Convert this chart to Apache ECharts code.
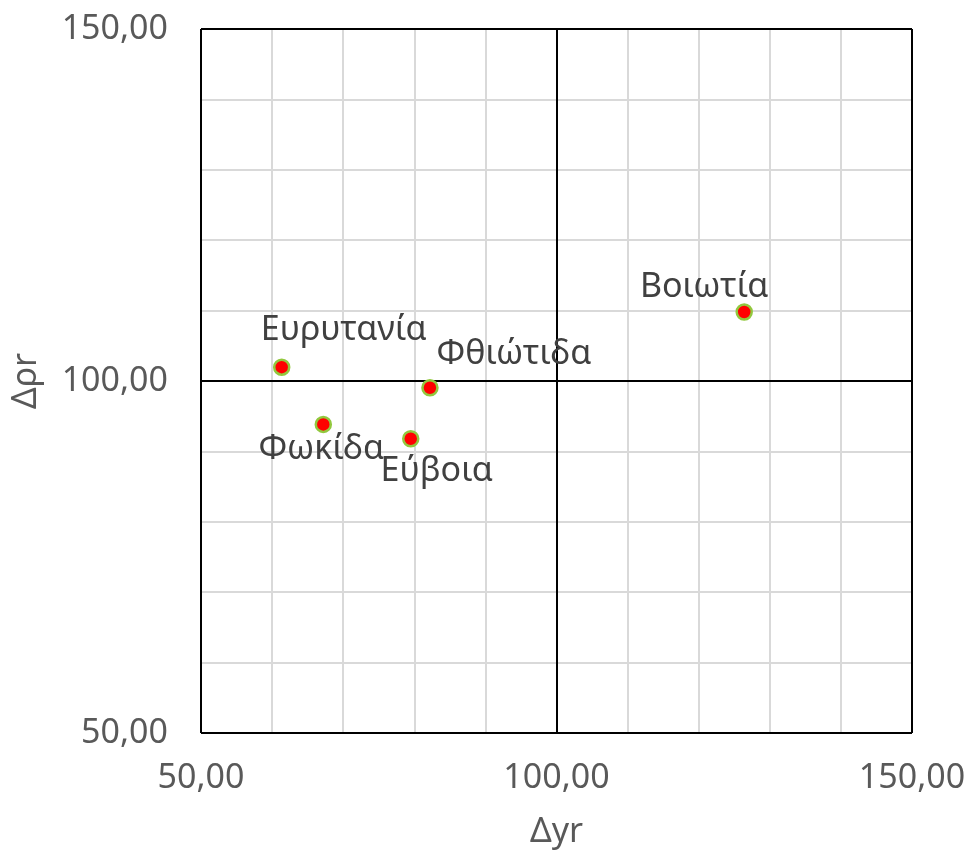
<!DOCTYPE html>
<html><head><meta charset="utf-8">
<script src="https://cdn.jsdelivr.net/npm/echarts@6/dist/echarts.min.js"></script>
<style>html,body{margin:0;padding:0;background:#fff}#c{width:975px;height:854px}</style>
</head><body><div id="c"></div>
<script>
const names = ['Ευρυτανία', 'Φθιώτιδα', 'Φωκίδα', 'Εύβοια', 'Βοιωτία'];
const dyr = [61.35, 82.2, 67.2, 79.5, 126.4];
const dpr = [101.96, 99.04, 93.83, 91.8, 109.8];
const labelOffsets = [[62, -37], [84, -33], [-2, 25], [26, 33], [-40, -25]];
const axisMin = 50, axisMax = 150, gridStep = 10, labelStep = 50, crossAt = 100;

const fmt = v => v.toFixed(2).replace('.', ',');
const FONT = 'Noto Sans';
const chart = echarts.init(document.getElementById('c'));
const axisCommon = {
  type: 'value', min: axisMin, max: axisMax, interval: gridStep,
  axisLine: { show: false }, axisTick: { show: false },
  splitLine: { show: true, lineStyle: { color: '#d9d9d9', width: 2 } },
  axisLabel: {
    color: '#595959', fontFamily: FONT, fontSize: 34,
    formatter: v => (v - axisMin) % labelStep === 0 ? fmt(v) : ''
  },
  nameTextStyle: { color: '#595959', fontFamily: FONT, fontSize: 34 }
};
const frameLines = [axisMin, crossAt, axisMax];
chart.setOption({
  animation: false,
  grid: { left: 201, right: 63, top: 29, bottom: 120 },
  xAxis: Object.assign({}, axisCommon, {
    name: 'Δyr', nameLocation: 'middle', nameGap: 82,
    axisLabel: Object.assign({}, axisCommon.axisLabel, { margin: 28 })
  }),
  yAxis: Object.assign({}, axisCommon, {
    name: 'Δρr', nameLocation: 'middle', nameGap: 158, nameRotate: 90,
    axisLabel: Object.assign({}, axisCommon.axisLabel, { margin: 33 })
  }),
  series: [{
    type: 'scatter',
    symbolSize: 15,
    itemStyle: { color: '#ff0000', borderColor: '#92c83e', borderWidth: 2.5, opacity: 1 },
    data: names.map((n, i) => ({
      value: [dyr[i], dpr[i]], name: n,
      label: { offset: labelOffsets[i] }
    })),
    label: {
      show: true, position: 'inside', formatter: p => p.name,
      color: '#404040', fontFamily: FONT, fontSize: 34
    },
    markLine: {
      silent: true, symbol: 'none', label: { show: false },
      lineStyle: { color: '#000', width: 2, type: 'solid' },
      data: frameLines.map(v => ({ xAxis: v })).concat(frameLines.map(v => ({ yAxis: v })))
    },
    z: 5
  }]
});
</script></body></html>
